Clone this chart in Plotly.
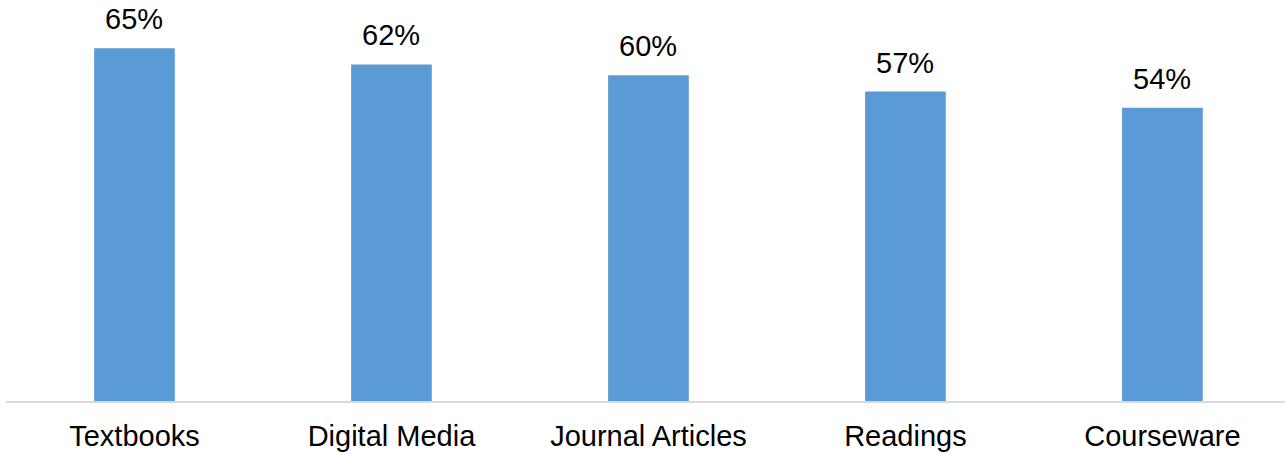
import plotly.graph_objects as go

categories = ["Textbooks", "Digital Media", "Journal Articles", "Readings", "Courseware"]
values = [65, 62, 60, 57, 54]
labels = ["65%", "62%", "60%", "57%", "54%"]

BAR_COLOR = "#5b9bd5"
FONT = "Liberation Sans, Arial, sans-serif"

fig = go.Figure()
fig.add_trace(go.Bar(
    x=list(range(len(categories))),
    y=values,
    width=0.314,
    marker=dict(color=BAR_COLOR, line=dict(width=0)),
    hoverinfo="skip",
))

for i, (v, t) in enumerate(zip(values, labels)):
    fig.add_annotation(
        x=i, y=v, text=t, showarrow=False,
        xref="x", yref="y", yanchor="bottom", yshift=11,
        font=dict(family=FONT, size=29, color="#000000"),
    )

fig.update_layout(
    width=1285, height=454,
    margin=dict(l=6, r=0, t=21, b=53),
    paper_bgcolor="white", plot_bgcolor="white",
    showlegend=False,
    font=dict(family=FONT, size=29, color="#000000"),
    xaxis=dict(
        range=[-0.5, 4.477],
        tickmode="array",
        tickvals=list(range(len(categories))),
        ticktext=categories,
        showline=True, linecolor="#d9d9d9", linewidth=2,
        showgrid=False, zeroline=False, ticks="",
        ticklabelstandoff=8,
        tickfont=dict(family=FONT, size=29, color="#000000"),
    ),
    yaxis=dict(
        range=[0, 70],
        visible=False, showgrid=False, zeroline=False,
    ),
)

fig.write_html("out.html")
